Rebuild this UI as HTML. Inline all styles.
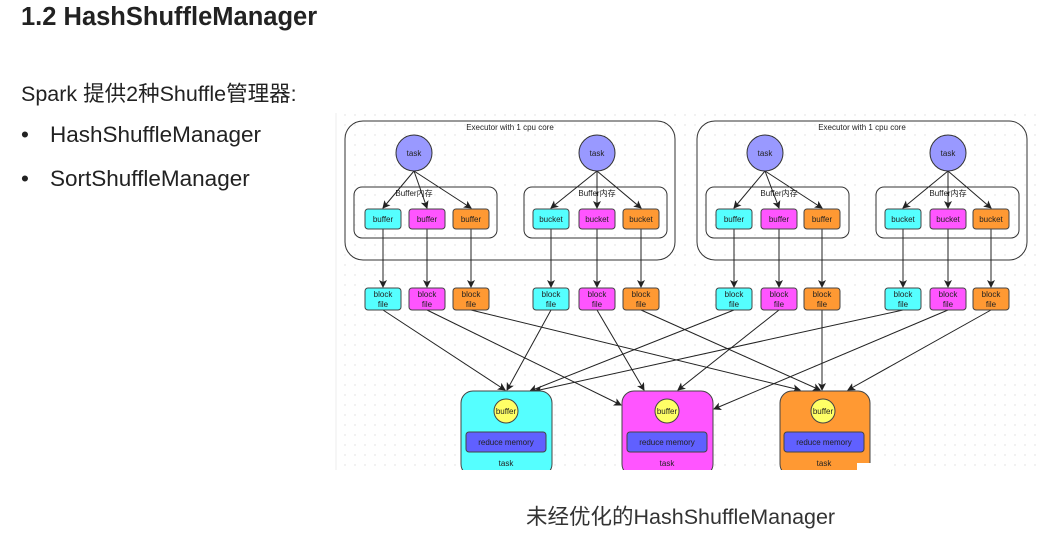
<!DOCTYPE html>
<html><head><meta charset="utf-8"><style>
body{margin:0;width:1059px;height:538px;background:#fff;overflow:hidden;font-family:"Liberation Sans","Noto Sans CJK SC",sans-serif;color:#222}
.t{position:absolute;white-space:nowrap;z-index:2}
</style></head><body>
<svg style="position:absolute;left:0;top:0" width="1059" height="538" font-family="Liberation Sans, Noto Sans CJK SC, sans-serif">
<defs>
<pattern id="d" width="10" height="10" patternUnits="userSpaceOnUse"><circle cx="5" cy="5" r="0.7" fill="#ddd"/></pattern>
<marker id="a" markerWidth="8" markerHeight="8" refX="7" refY="4" orient="auto" markerUnits="userSpaceOnUse"><path d="M0,0 L8,4 L0,8 L2,4z" fill="#222"/></marker>
</defs>
<rect x="336" y="113" width="704" height="357" fill="url(#d)"/>
<line x1="336" y1="113" x2="336" y2="470" stroke="#eee"/>
<g stroke="#333" fill="none" stroke-width="1">
<rect x="345" y="121" width="330" height="139" rx="18"/>
<rect x="697" y="121" width="330" height="139" rx="18"/>
<rect x="354" y="187" width="143" height="51" rx="8"/>
<rect x="524" y="187" width="143" height="51" rx="8"/>
<rect x="706" y="187" width="143" height="51" rx="8"/>
<rect x="876" y="187" width="143" height="51" rx="8"/>
</g>
<g font-size="8" fill="#222" text-anchor="middle">
<text x="510" y="130">Executor with 1 cpu core</text>
<text x="862" y="130">Executor with 1 cpu core</text>
<text x="414" y="196">Buffer内存</text><text x="597" y="196">Buffer内存</text>
<text x="779" y="196">Buffer内存</text><text x="948" y="196">Buffer内存</text>
</g>
<g stroke="#222" stroke-width="1" marker-end="url(#a)">
<line x1="414" y1="171" x2="383" y2="208"/><line x1="414" y1="171" x2="427" y2="208"/><line x1="414" y1="171" x2="471" y2="208"/>
<line x1="597" y1="171" x2="551" y2="208"/><line x1="597" y1="171" x2="597" y2="208"/><line x1="597" y1="171" x2="641" y2="208"/>
<line x1="765" y1="171" x2="734" y2="208"/><line x1="765" y1="171" x2="779" y2="208"/><line x1="765" y1="171" x2="822" y2="208"/>
<line x1="948" y1="171" x2="903" y2="208"/><line x1="948" y1="171" x2="948" y2="208"/><line x1="948" y1="171" x2="991" y2="208"/>
<line x1="383" y1="229" x2="383" y2="287"/><line x1="427" y1="229" x2="427" y2="287"/><line x1="471" y1="229" x2="471" y2="287"/>
<line x1="551" y1="229" x2="551" y2="287"/><line x1="597" y1="229" x2="597" y2="287"/><line x1="641" y1="229" x2="641" y2="287"/>
<line x1="734" y1="229" x2="734" y2="287"/><line x1="779" y1="229" x2="779" y2="287"/><line x1="822" y1="229" x2="822" y2="287"/>
<line x1="903" y1="229" x2="903" y2="287"/><line x1="948" y1="229" x2="948" y2="287"/><line x1="991" y1="229" x2="991" y2="287"/>
<line x1="383" y1="310" x2="505" y2="390"/><line x1="551" y1="310" x2="507" y2="390"/><line x1="734" y1="310" x2="530" y2="391"/><line x1="903" y1="310" x2="535" y2="391"/>
<line x1="427" y1="310" x2="621" y2="405"/><line x1="597" y1="310" x2="644" y2="390"/><line x1="779" y1="310" x2="678" y2="390"/><line x1="948" y1="310" x2="714" y2="409"/>
<line x1="471" y1="310" x2="800" y2="390"/><line x1="641" y1="310" x2="820" y2="390"/><line x1="822" y1="310" x2="822" y2="390"/><line x1="991" y1="310" x2="848" y2="390"/>
</g>
<g stroke="#333" stroke-width="1">
<circle cx="414" cy="153" r="18" fill="#9999ff"/><circle cx="597" cy="153" r="18" fill="#9999ff"/>
<circle cx="765" cy="153" r="18" fill="#9999ff"/><circle cx="948" cy="153" r="18" fill="#9999ff"/>
</g>
<g font-size="8" text-anchor="middle" fill="#222">
<text x="414" y="156">task</text><text x="597" y="156">task</text><text x="765" y="156">task</text><text x="948" y="156">task</text>
</g>
<g stroke="#444" stroke-width="1">
<rect x="365" y="209" width="36" height="20" rx="3" fill="#5ff"/><rect x="409" y="209" width="36" height="20" rx="3" fill="#f5f"/><rect x="453" y="209" width="36" height="20" rx="3" fill="#f93"/>
<rect x="533" y="209" width="36" height="20" rx="3" fill="#5ff"/><rect x="579" y="209" width="36" height="20" rx="3" fill="#f5f"/><rect x="623" y="209" width="36" height="20" rx="3" fill="#f93"/>
<rect x="716" y="209" width="36" height="20" rx="3" fill="#5ff"/><rect x="761" y="209" width="36" height="20" rx="3" fill="#f5f"/><rect x="804" y="209" width="36" height="20" rx="3" fill="#f93"/>
<rect x="885" y="209" width="36" height="20" rx="3" fill="#5ff"/><rect x="930" y="209" width="36" height="20" rx="3" fill="#f5f"/><rect x="973" y="209" width="36" height="20" rx="3" fill="#f93"/>
<rect x="365" y="288" width="36" height="22" rx="3" fill="#5ff"/><rect x="409" y="288" width="36" height="22" rx="3" fill="#f5f"/><rect x="453" y="288" width="36" height="22" rx="3" fill="#f93"/>
<rect x="533" y="288" width="36" height="22" rx="3" fill="#5ff"/><rect x="579" y="288" width="36" height="22" rx="3" fill="#f5f"/><rect x="623" y="288" width="36" height="22" rx="3" fill="#f93"/>
<rect x="716" y="288" width="36" height="22" rx="3" fill="#5ff"/><rect x="761" y="288" width="36" height="22" rx="3" fill="#f5f"/><rect x="804" y="288" width="36" height="22" rx="3" fill="#f93"/>
<rect x="885" y="288" width="36" height="22" rx="3" fill="#5ff"/><rect x="930" y="288" width="36" height="22" rx="3" fill="#f5f"/><rect x="973" y="288" width="36" height="22" rx="3" fill="#f93"/>
</g>
<g font-size="8" text-anchor="middle" fill="#222">
<text x="383" y="222">buffer</text><text x="427" y="222">buffer</text><text x="471" y="222">buffer</text>
<text x="551" y="222">bucket</text><text x="597" y="222">bucket</text><text x="641" y="222">bucket</text>
<text x="734" y="222">buffer</text><text x="779" y="222">buffer</text><text x="822" y="222">buffer</text>
<text x="903" y="222">bucket</text><text x="948" y="222">bucket</text><text x="991" y="222">bucket</text>
<text x="383" y="297">block</text><text x="383" y="307">file</text>
<text x="427" y="297">block</text><text x="427" y="307">file</text>
<text x="471" y="297">block</text><text x="471" y="307">file</text>
<text x="551" y="297">block</text><text x="551" y="307">file</text>
<text x="597" y="297">block</text><text x="597" y="307">file</text>
<text x="641" y="297">block</text><text x="641" y="307">file</text>
<text x="734" y="297">block</text><text x="734" y="307">file</text>
<text x="779" y="297">block</text><text x="779" y="307">file</text>
<text x="822" y="297">block</text><text x="822" y="307">file</text>
<text x="903" y="297">block</text><text x="903" y="307">file</text>
<text x="948" y="297">block</text><text x="948" y="307">file</text>
<text x="991" y="297">block</text><text x="991" y="307">file</text>
</g>
<g stroke="#444" stroke-width="1">
<rect x="461" y="391" width="91" height="85" rx="12" fill="#5ff"/>
<rect x="622" y="391" width="91" height="85" rx="12" fill="#f5f"/>
<rect x="780" y="391" width="90" height="85" rx="12" fill="#f93"/>
<circle cx="506" cy="411" r="12" fill="#ff6"/><circle cx="667" cy="411" r="12" fill="#ff6"/><circle cx="823" cy="411" r="12" fill="#ff6"/>
<rect x="466" y="432" width="80" height="20" rx="3" fill="#6060ff"/>
<rect x="627" y="432" width="80" height="20" rx="3" fill="#6060ff"/>
<rect x="784" y="432" width="80" height="20" rx="3" fill="#6060ff"/>
</g>
<rect x="336" y="470" width="723" height="68" fill="#fff"/>
<rect x="857" y="463" width="30" height="10" fill="#fff"/>
<g font-size="8" text-anchor="middle" fill="#222">
<text x="506" y="414">buffer</text><text x="667" y="414">buffer</text><text x="823" y="414">buffer</text>
<text x="506" y="445">reduce memory</text><text x="667" y="445">reduce memory</text><text x="824" y="445">reduce memory</text>
<text x="506" y="466">task</text><text x="667" y="466">task</text><text x="824" y="466">task</text>
</g>
</svg>
<div class="t" style="left:21px;top:3px;font-size:25.5px;font-weight:bold">1.2 HashShuffleManager</div>
<div class="t" style="left:21px;top:77px;font-size:21.5px">Spark 提供2种Shuffle管理器:</div>
<div class="t" style="left:21px;top:122px;font-size:22.5px">•</div>
<div class="t" style="left:50px;top:122px;font-size:22.5px">HashShuffleManager</div>
<div class="t" style="left:21px;top:166px;font-size:22.5px">•</div>
<div class="t" style="left:50px;top:166px;font-size:22.5px">SortShuffleManager</div>
<div class="t" style="left:526px;top:500px;font-size:21.5px;color:#333">未经优化的HashShuffleManager</div>
</body></html>
